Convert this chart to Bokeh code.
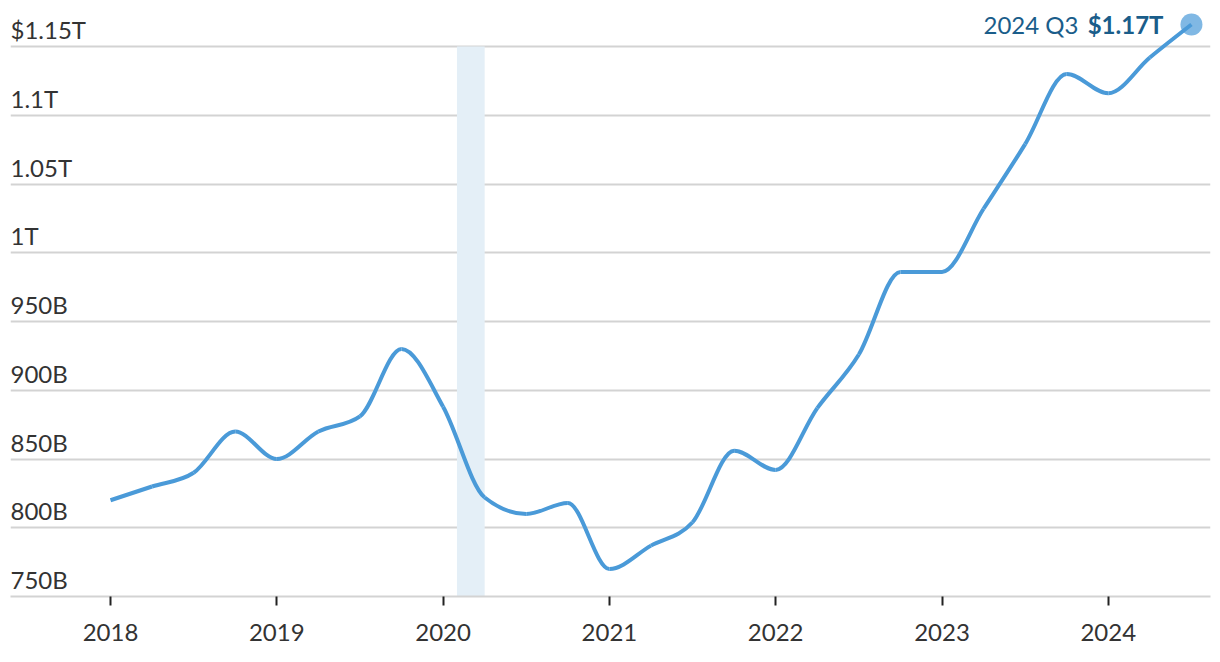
import numpy as np
from bokeh.plotting import figure
from bokeh.models import FixedTicker, Range1d, ColumnDataSource, BoxAnnotation
from bokeh.core.properties import value
from bokeh.embed import file_html
from bokeh.resources import INLINE

# ---- data ----
quarters = ["2018 Q1", "2018 Q2", "2018 Q3", "2018 Q4",
            "2019 Q1", "2019 Q2", "2019 Q3", "2019 Q4",
            "2020 Q1", "2020 Q2", "2020 Q3", "2020 Q4",
            "2021 Q1", "2021 Q2", "2021 Q3", "2021 Q4",
            "2022 Q1", "2022 Q2", "2022 Q3", "2022 Q4",
            "2023 Q1", "2023 Q2", "2023 Q3", "2023 Q4",
            "2024 Q1", "2024 Q2", "2024 Q3"]
values_b = [820, 830, 840, 870,
            850, 870, 881, 930,
            888, 822, 810, 818,
            770, 787, 804, 856,
            842, 887, 926, 986,
            986, 1032, 1079, 1130,
            1116, 1142, 1166]
year_ticks = [2018, 2019, 2020, 2021, 2022, 2023, 2024]
year_labels = ["2018", "2019", "2020", "2021", "2022", "2023", "2024"]
y_ticks = [750, 800, 850, 900, 950, 1000, 1050, 1100, 1150]
y_labels = ["750B", "800B", "850B", "900B", "950B", "1T", "1.05T", "1.1T", "$1.15T"]
recession = (2020 + 1/12, 2020 + 3/12)
end_label_plain = "2024 Q3"
end_label_bold = "$1.17T"

FONT = "Lato"
FS = "24px"
LINE_C = "#4a9ad8"
TEXT_C = "#333333"

x = np.array([int(q[:4]) + (int(q[-1]) - 1) / 4 for q in quarters])
y = np.array(values_b, dtype=float)

# monotone-x cubic (d3 curveMonotoneX) expressed as bezier segments
n = len(x)
h = np.diff(x)
s = np.diff(y) / h
t = np.zeros(n)
for i in range(1, n - 1):
    s0, s1 = s[i - 1], s[i]
    p_ = (s0 * h[i] + s1 * h[i - 1]) / (h[i - 1] + h[i])
    t[i] = (np.sign(s0) + np.sign(s1)) * min(abs(s0), abs(s1), 0.5 * abs(p_))
t[0] = (3 * s[0] - t[1]) / 2
t[-1] = (3 * s[-1] - t[-2]) / 2
seg = ColumnDataSource(dict(
    x0=x[:-1], y0=y[:-1], x1=x[1:], y1=y[1:],
    cx0=x[:-1] + h / 3, cy0=y[:-1] + h / 3 * t[:-1],
    cx1=x[1:] - h / 3, cy1=y[1:] - h / 3 * t[1:],
))

px_per_year = 166.3
x_start = 2018 - 100 / px_per_year
x_end = 2018 + 1100 / px_per_year
y_start = 750
y_end = 750 + 596 / 1.375

p = figure(width=1220, height=662, output_backend="svg", toolbar_location=None,
           x_range=Range1d(x_start, x_end), y_range=Range1d(y_start, y_end),
           min_border_left=10, min_border_right=10, min_border_top=0, min_border_bottom=66)
p.outline_line_color = None
p.background_fill_color = "white"
p.border_fill_color = "white"

p.yaxis.visible = False
p.xgrid.visible = False
p.ygrid.ticker = FixedTicker(ticks=y_ticks[1:])
p.ygrid.grid_line_color = "#d3d3d3"
p.ygrid.grid_line_width = 2

ax = p.xaxis[0]
ax.ticker = FixedTicker(ticks=year_ticks)
ax.major_label_overrides = {yr: lab for yr, lab in zip(year_ticks, year_labels)}
ax.axis_line_color = "#d3d3d3"
ax.axis_line_width = 2
ax.major_tick_line_color = "#222222"
ax.major_tick_line_width = 2
ax.major_tick_in = 0
ax.major_tick_out = 9
ax.minor_tick_line_color = None
ax.major_label_text_font = FONT
ax.major_label_text_font_size = FS
ax.major_label_text_color = TEXT_C
ax.major_label_standoff = 18

p.add_layout(BoxAnnotation(left=recession[0], right=recession[1], bottom=750, top=1150,
                           fill_color="#e4eff7", fill_alpha=1.0, line_color=None, level="underlay"))

p.text(x=[x_start] * len(y_ticks), y=y_ticks, text=y_labels,
       text_font=value(FONT), text_font_size=FS, text_color=TEXT_C,
       text_baseline="alphabetic", text_align="left", y_offset=-17)

p.bezier(x0="x0", y0="y0", x1="x1", y1="y1", cx0="cx0", cy0="cy0", cx1="cx1", cy1="cy1",
         source=seg, line_color=LINE_C, line_width=4)

p.scatter(x=[x[-1]], y=[y[-1]], size=22, fill_color=LINE_C, fill_alpha=0.7, line_color=None)

p.text(x=[x[-1]], y=[y[-1]], text=[end_label_bold], text_font=value(FONT),
       text_font_size=FS, text_font_style="bold", text_color="#1a5d8a",
       text_align="right", text_baseline="middle", x_offset=-28)
p.text(x=[x[-1]], y=[y[-1]], text=[end_label_plain], text_font=value(FONT),
       text_font_size=FS, text_color="#1a5d8a",
       text_align="right", text_baseline="middle", x_offset=-113)

open("out.html", "w").write(file_html(p, INLINE))
